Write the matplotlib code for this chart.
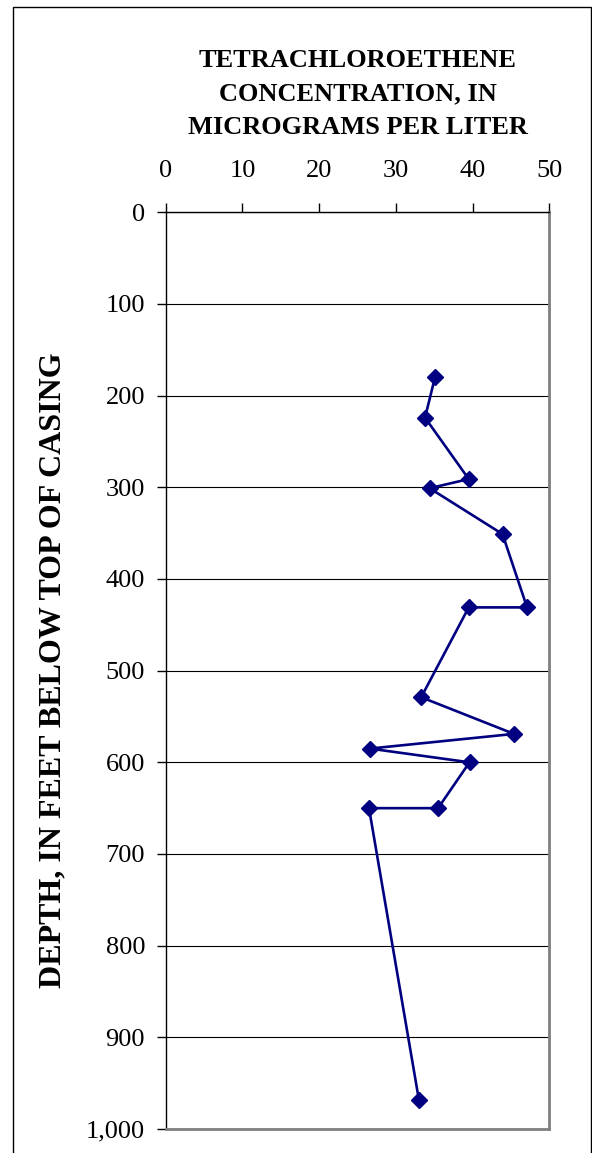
import matplotlib
matplotlib.use("Agg")
import matplotlib.pyplot as plt
from matplotlib.patches import Rectangle

# Tetrachloroethene concentration profile with depth
depth_ft = [180, 224, 291, 301, 351, 431, 431, 529, 569, 585, 600, 650, 650, 968]
pce_ugl = [35.1, 33.8, 39.5, 34.4, 43.9, 47.1, 39.5, 33.3, 45.4, 26.6, 39.6, 35.5, 26.5, 33.0]

x_ticks = [0, 10, 20, 30, 40, 50]
y_ticks = [0, 100, 200, 300, 400, 500, 600, 700, 800, 900, 1000]
y_ticklabels = ["0", "100", "200", "300", "400", "500", "600", "700", "800", "900", "1,000"]

plt.rcParams["font.family"] = ["Liberation Serif", "DejaVu Serif"]

W, H = 592, 1153
fig = plt.figure(figsize=(W / 100, H / 100), dpi=100)
fig.patch.set_facecolor("white")

# outer frame around the whole graphic
fig.add_artist(Rectangle((13 / W, -0.01), (591 - 13) / W, 1 - 7 / H + 0.01,
                         transform=fig.transFigure, fill=False,
                         edgecolor="black", linewidth=1.0))

ax = fig.add_axes([165.7 / W, 1 - 1129 / H, (549.3 - 165.7) / W, (1129 - 212.3) / H])

ax.plot(pce_ugl, depth_ft, color="#000080", linewidth=1.9,
        marker="D", markersize=8.3, markerfacecolor="#000080",
        markeredgecolor="#000080", zorder=3)

ax.set_xlim(0, 50)
ax.set_ylim(1000, 0)
ax.xaxis.tick_top()
ax.set_xticks(x_ticks)
ax.set_yticks(y_ticks)
ax.set_yticklabels(y_ticklabels)

ax.tick_params(axis="x", direction="out", length=6.3, width=1.0,
               pad=15.5, labelsize=19, colors="black")
ax.tick_params(axis="y", direction="out", length=6.5, width=1.0,
               pad=8.4, labelsize=19, colors="black")

ax.yaxis.grid(True, color="black", linewidth=0.8)
ax.set_axisbelow(True)

for side in ("top", "left"):
    ax.spines[side].set_color("black")
    ax.spines[side].set_linewidth(1.0)
for side in ("right", "bottom"):
    ax.spines[side].set_color("#808080")
    ax.spines[side].set_linewidth(2.0)

fig.text(357.5 / W, 1 - 94 / H,
         "TETRACHLOROETHENE\nCONCENTRATION, IN\nMICROGRAMS PER LITER",
         ha="center", va="center", fontsize=19, fontweight="bold",
         linespacing=1.58)

fig.text(52.5 / W, 1 - 670 / H, "DEPTH, IN FEET BELOW TOP OF CASING",
         rotation=90, ha="center", va="center", fontsize=23,
         fontweight="bold")

fig.savefig("out.png", dpi=100, facecolor="white")
